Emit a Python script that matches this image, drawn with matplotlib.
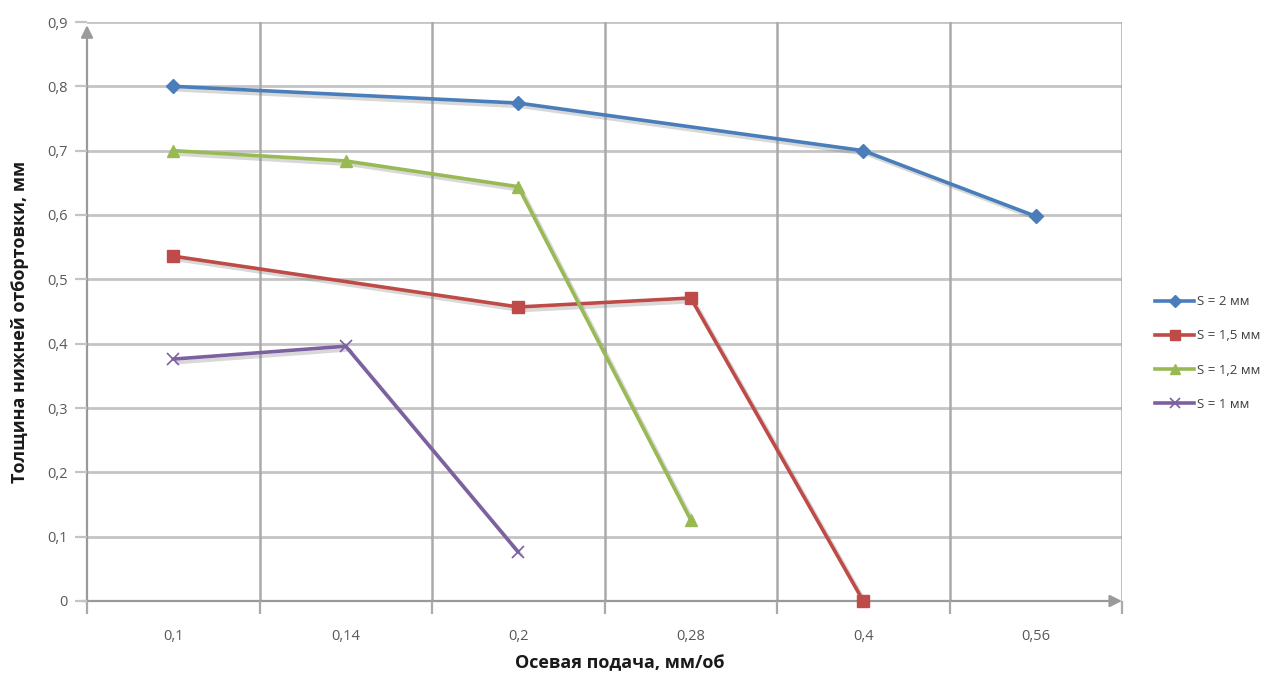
import matplotlib
matplotlib.use("Agg")
import matplotlib.pyplot as plt
import matplotlib.patheffects as pe
import numpy as np

plt.rcParams['font.family'] = ['Open Sans', 'DejaVu Sans']

# Feed categories (mm/rev) and bottom flange thickness (mm) per sheet thickness S
feeds = ["0,1", "0,14", "0,2", "0,28", "0,4", "0,56"]
s2_idx = [0, 2, 4, 5]
s2_val = [0.80, 0.774, 0.70, 0.598]
s15_idx = [0, 2, 3, 4]
s15_val = [0.536, 0.457, 0.471, 0.0]
s12_idx = [0, 1, 2, 3]
s12_val = [0.70, 0.684, 0.644, 0.126]
s1_idx = [0, 1, 2]
s1_val = [0.376, 0.396, 0.076]
yticks = [0.0, 0.1, 0.2, 0.3, 0.4, 0.5, 0.6, 0.7, 0.8, 0.9]
ytick_labels = ["0", "0,1", "0,2", "0,3", "0,4", "0,5", "0,6", "0,7", "0,8", "0,9"]

W, H = 1281, 679
fig = plt.figure(figsize=(W / 100, H / 100), dpi=100)
ax = fig.add_axes([87 / W, 1 - 601 / H, (1122 - 87) / W, (601 - 22) / H])

ax.set_xlim(-0.5, len(feeds) - 0.5)
ax.set_ylim(0, 0.9)

grid_col = "#c4c4c4"
vgrid_col = "#aaaaaa"
axis_col = "#9a9a9a"
tick_txt = "#595959"

# Horizontal gridlines with short outer ticks
ax.set_yticks(yticks)
ax.set_yticklabels(ytick_labels, color=tick_txt, fontsize=10.5)
ax.tick_params(axis='y', length=9, width=1.6, color=grid_col, pad=5)
for y in yticks[1:]:
    ax.axhline(y, color=grid_col, lw=2.0, zorder=0)

# Category labels centred, vertical gridlines on category boundaries
ax.set_xticks(range(len(feeds)))
ax.set_xticklabels(feeds, color=tick_txt, fontsize=10.5)
ax.tick_params(axis='x', which='major', length=0, pad=20)
bounds = np.arange(-0.5, len(feeds), 1.0)
ax.set_xticks(bounds, minor=True)
ax.tick_params(axis='x', which='minor', length=9, width=1.6, color=vgrid_col)
for x in bounds[1:]:
    ax.axvline(x, color=vgrid_col, lw=1.8, zorder=0)

for sp in ax.spines.values():
    sp.set_visible(False)

# Axes with arrowheads
ax.annotate("", xy=(-0.5, 0.895), xytext=(-0.5, 0.0),
            arrowprops=dict(arrowstyle="-|>", color=axis_col, lw=1.6,
                            mutation_scale=18, shrinkA=0, shrinkB=0),
            annotation_clip=False, zorder=1)
ax.annotate("", xy=(5.5, 0.0), xytext=(-0.53, 0.0),
            arrowprops=dict(arrowstyle="-|>", color=axis_col, lw=1.6,
                            mutation_scale=18, shrinkA=0, shrinkB=0),
            annotation_clip=False, zorder=1)

shadow = [pe.SimpleLineShadow(offset=(2.5, -2.5), shadow_color="#808080", alpha=0.3),
          pe.Normal()]

series = [
    (s2_idx, s2_val, "S = 2 мм", "#4a7ebb", "D", 7, 1),
    (s15_idx, s15_val, "S = 1,5 мм", "#be4b48", "s", 8, 1),
    (s12_idx, s12_val, "S = 1,2 мм", "#98b954", "^", 9, 1),
    (s1_idx, s1_val, "S = 1 мм", "#7d60a0", "x", 9, 1.2),
]
handles = []
for idx, val, lab, col, mk, ms, mew in series:
    ax.plot(idx, val, color=col, lw=2.6, zorder=3, clip_on=False,
            solid_capstyle="round", path_effects=shadow)
    ax.plot(idx, val, ls="none", marker=mk, ms=ms, mew=mew, mec=col, mfc=col,
            zorder=4, clip_on=False)
    handles.append(plt.Line2D([], [], color=col, lw=2.6, marker=mk, ms=ms * 0.85,
                              mew=mew, mec=col, mfc=col, label=lab))

fig.text(20 / W, 1 - 322 / H, "Толщина нижней отбортовки, мм", rotation=90,
         ha="center", va="center", fontsize=13, fontweight="bold", color="#1a1a1a")
fig.text(620 / W, 1 - 663 / H, "Осевая подача, мм/об",
         ha="center", va="center", fontsize=13, fontweight="bold", color="#1a1a1a")

fig.legend(handles=handles, loc="center left", bbox_to_anchor=(1143 / W, 1 - 353 / H),
           frameon=False, fontsize=9.5, handlelength=3.0, handletextpad=0.2,
           labelspacing=1.6, labelcolor="#404040")

fig.savefig("out.png", dpi=100, facecolor="white")
